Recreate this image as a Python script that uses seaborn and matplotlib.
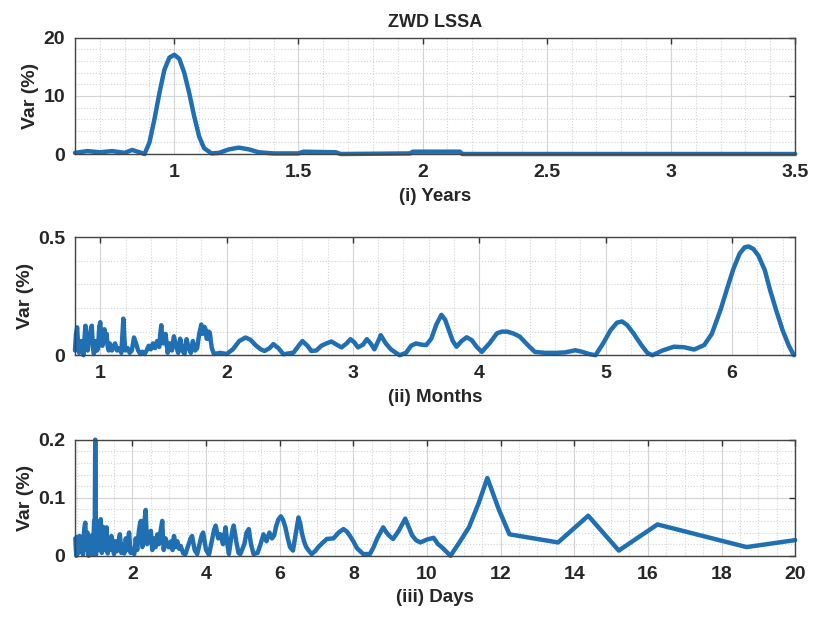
import numpy as np
import matplotlib
matplotlib.use("Agg")
import matplotlib.pyplot as plt
from matplotlib.ticker import MultipleLocator
import seaborn as sns

# (i) Years
years_x = [0.60, 0.65, 0.70, 0.75, 0.80, 0.83, 0.86, 0.88, 0.90, 0.92, 0.94, 0.96,
           0.98, 1.00, 1.02, 1.04, 1.06, 1.08, 1.10, 1.12, 1.15, 1.18, 1.22, 1.26,
           1.30, 1.34, 1.40, 1.50, 1.52, 1.65, 1.67, 1.95, 1.96, 2.15, 2.16, 3.50]
years_y = [0.2, 0.5, 0.3, 0.5, 0.2, 0.7, 0.3, 0.0, 2.0, 6.0, 10.5, 14.5,
           16.6, 17.1, 16.4, 14.0, 10.5, 6.5, 3.0, 1.0, 0.1, 0.2, 0.8, 1.1,
           0.8, 0.3, 0.1, 0.1, 0.4, 0.3, 0.0, 0.1, 0.4, 0.4, 0.0, 0.0]

# (ii) Months
months_x = [0.80, 0.808, 0.817, 0.825, 0.833, 0.842, 0.85, 0.858, 0.867, 0.875, 0.883, 0.892,
            0.90, 0.908, 0.917, 0.925, 0.933, 0.942, 0.95, 0.958, 0.967, 0.975, 0.983, 0.992,
            1.00, 1.008, 1.017, 1.025, 1.033, 1.042, 1.05, 1.058, 1.067, 1.075, 1.083, 1.092,
            1.10, 1.117, 1.133, 1.15, 1.167, 1.175, 1.183, 1.192,
            1.20, 1.217, 1.233, 1.25, 1.267, 1.283, 1.30, 1.317, 1.333, 1.35, 1.367, 1.383,
            1.40, 1.417, 1.433, 1.45, 1.467, 1.475, 1.483, 1.492, 1.50, 1.517, 1.533, 1.55,
            1.567, 1.583, 1.60, 1.617, 1.633, 1.65, 1.667, 1.683, 1.70, 1.717, 1.733, 1.75,
            1.767, 1.783, 1.792, 1.80, 1.808, 1.817, 1.825, 1.833, 1.842, 1.85, 1.858, 1.867,
            1.875, 1.883, 1.90, 1.95, 2.00, 2.05, 2.10, 2.15, 2.19, 2.23, 2.27, 2.30,
            2.34, 2.37, 2.41, 2.45, 2.53, 2.57, 2.60, 2.64, 2.67, 2.71, 2.75, 2.79,
            2.83, 2.87, 2.91, 2.95, 2.98, 3.01, 3.04, 3.08, 3.11, 3.14, 3.17, 3.20,
            3.22, 3.26, 3.30, 3.34, 3.37, 3.42, 3.46, 3.50, 3.54, 3.58, 3.62, 3.66,
            3.70, 3.73, 3.75, 3.79, 3.82, 3.86, 3.90, 3.94, 3.98, 4.02, 4.08, 4.14,
            4.18, 4.22, 4.27, 4.32, 4.38, 4.44, 4.52, 4.61, 4.68, 4.76, 4.81, 4.87,
            4.92, 4.98, 5.04, 5.09, 5.13, 5.17, 5.22, 5.28, 5.33, 5.37, 5.45, 5.54,
            5.62, 5.70, 5.78, 5.84, 5.91, 5.96, 6.01, 6.06, 6.10, 6.13, 6.17, 6.21,
            6.26, 6.30, 6.35, 6.40, 6.45, 6.49]
months_y = [0.02, 0.09, 0.118, 0.04, 0.01, 0.05, 0.06, 0.02, 0.00, 0.07, 0.125, 0.05,
            0.02, 0.06, 0.08, 0.11, 0.125, 0.03, 0.005, 0.04, 0.06, 0.02, 0.03, 0.12,
            0.14, 0.07, 0.04, 0.09, 0.11, 0.06, 0.09, 0.04, 0.02, 0.05, 0.04, 0.02,
            0.03, 0.05, 0.02, 0.03, 0.01, 0.08, 0.155, 0.06,
            0.02, 0.03, 0.01, 0.02, 0.075, 0.05, 0.02, 0.005, 0.015, 0.005, 0.02, 0.04,
            0.025, 0.05, 0.03, 0.06, 0.035, 0.09, 0.127, 0.06, 0.05, 0.09, 0.01, 0.05,
            0.02, 0.08, 0.04, 0.01, 0.07, 0.02, 0.005, 0.068, 0.03, 0.01, 0.06, 0.02,
            0.03, 0.09, 0.11, 0.13, 0.09, 0.10, 0.12, 0.11, 0.07, 0.07, 0.10, 0.096,
            0.06, 0.03, 0.005, 0.01, 0.005, 0.025, 0.06, 0.075, 0.065, 0.042, 0.025, 0.018,
            0.03, 0.047, 0.03, 0.004, 0.011, 0.04, 0.06, 0.04, 0.018, 0.02, 0.04, 0.05,
            0.058, 0.045, 0.033, 0.05, 0.068, 0.055, 0.033, 0.045, 0.068, 0.05, 0.025, 0.06,
            0.085, 0.05, 0.025, 0.01, 0.0, 0.01, 0.04, 0.05, 0.045, 0.043, 0.07, 0.13,
            0.171, 0.15, 0.12, 0.06, 0.036, 0.06, 0.076, 0.064, 0.035, 0.014, 0.05, 0.093,
            0.10, 0.10, 0.092, 0.079, 0.045, 0.014, 0.01, 0.01, 0.012, 0.021, 0.015, 0.005,
            0.0, 0.05, 0.107, 0.138, 0.143, 0.128, 0.093, 0.045, 0.01, 0.0, 0.02, 0.036,
            0.034, 0.024, 0.043, 0.09, 0.193, 0.28, 0.364, 0.43, 0.457, 0.461, 0.45, 0.421,
            0.36, 0.279, 0.19, 0.107, 0.04, 0.0]

# (iii) Days
days_x = [0.45, 0.465, 0.48, 0.495, 0.51, 0.525, 0.54, 0.555, 0.57, 0.585, 0.60, 0.615,
          0.63, 0.645, 0.66, 0.675, 0.69, 0.705, 0.72, 0.735, 0.75, 0.765, 0.78, 0.795,
          0.81, 0.825, 0.84, 0.855, 0.87, 0.885, 0.90, 0.915, 0.93, 0.945, 0.96, 0.975,
          0.99, 1.01, 1.025, 1.04, 1.055, 1.07, 1.085, 1.10, 1.12, 1.14, 1.155, 1.17,
          1.185, 1.20, 1.215, 1.23, 1.25, 1.27, 1.285, 1.30, 1.315, 1.33, 1.345, 1.36,
          1.38, 1.40, 1.415, 1.43, 1.445, 1.46, 1.48, 1.50, 1.52, 1.54, 1.56, 1.58,
          1.60, 1.62, 1.64, 1.66, 1.68, 1.70, 1.72, 1.74, 1.76, 1.78, 1.80, 1.82,
          1.84, 1.86, 1.885, 1.91, 1.93, 1.95, 1.975, 2.00, 2.025, 2.05, 2.07, 2.09,
          2.11, 2.13, 2.155, 2.18, 2.205, 2.23, 2.25, 2.27, 2.29, 2.31, 2.335, 2.36,
          2.38, 2.40, 2.425, 2.45, 2.475, 2.50, 2.52, 2.54, 2.56, 2.58, 2.605, 2.63,
          2.655, 2.68, 2.70, 2.72, 2.745, 2.77, 2.79, 2.81, 2.83, 2.85, 2.875, 2.90,
          2.925, 2.95, 2.975, 3.00, 3.025, 3.05, 3.07, 3.09, 3.11, 3.13, 3.155, 3.18,
          3.20, 3.22, 3.245, 3.27, 3.29, 3.31, 3.38, 3.44, 3.53, 3.58, 3.62, 3.66,
          3.69, 3.76, 3.84, 3.88, 3.92, 3.96, 4.00, 4.08, 4.17, 4.22, 4.26, 4.30,
          4.33, 4.39, 4.46, 4.53, 4.58, 4.62, 4.68, 4.72, 4.75, 4.78, 4.82, 4.88,
          4.93, 5.04, 5.10, 5.16, 5.22, 5.29, 5.40, 5.48, 5.56, 5.64, 5.72, 5.79,
          5.85, 5.90, 5.96, 6.03, 6.09, 6.15, 6.22, 6.28, 6.36, 6.44, 6.51, 6.56,
          6.60, 6.66, 6.72, 6.80, 6.87, 6.96, 7.05, 7.16, 7.28, 7.46, 7.60, 7.73,
          7.82, 7.90, 8.00, 8.10, 8.27, 8.45, 8.55, 8.65, 8.81, 8.90, 9.00, 9.08,
          9.17, 9.25, 9.41, 9.50, 9.60, 9.70, 9.82, 10.00, 10.18, 10.30, 10.40, 10.64,
          10.90, 11.14, 11.40, 11.64, 11.95, 12.24, 13.56, 14.38, 15.21, 16.26, 18.68, 20.00]
days_y = [0.03, 0.01, 0.0, 0.02, 0.033, 0.012, 0.005, 0.025, 0.034, 0.015, 0.01, 0.028,
          0.03, 0.008, 0.002, 0.025, 0.045, 0.052, 0.057, 0.03, 0.01, 0.025, 0.04, 0.015,
          0.0, 0.02, 0.03, 0.012, 0.01, 0.028, 0.035, 0.015, 0.002, 0.03, 0.06, 0.02,
          0.2, 0.002, 0.02, 0.03, 0.012, 0.01, 0.03, 0.04, 0.055, 0.063, 0.02, 0.005,
          0.03, 0.05, 0.025, 0.01, 0.02, 0.03, 0.04, 0.049, 0.02, 0.004, 0.015, 0.025,
          0.018, 0.01, 0.025, 0.034, 0.028, 0.02, 0.01, 0.003, 0.015, 0.025, 0.012, 0.008,
          0.015, 0.02, 0.03, 0.037, 0.02, 0.005, 0.015, 0.02, 0.01, 0.004, 0.02, 0.03,
          0.02, 0.01, 0.03, 0.04, 0.02, 0.005, 0.012, 0.01, 0.005, 0.003, 0.015, 0.03,
          0.02, 0.01, 0.03, 0.045, 0.055, 0.06, 0.03, 0.015, 0.035, 0.05, 0.065, 0.079,
          0.045, 0.02, 0.03, 0.035, 0.04, 0.043, 0.025, 0.01, 0.02, 0.03, 0.022, 0.015,
          0.028, 0.037, 0.03, 0.02, 0.035, 0.045, 0.052, 0.06, 0.03, 0.01, 0.02, 0.03,
          0.025, 0.02, 0.015, 0.015, 0.022, 0.025, 0.015, 0.01, 0.025, 0.034, 0.025, 0.015,
          0.02, 0.025, 0.018, 0.012, 0.015, 0.017, 0.004, 0.003, 0.02, 0.03, 0.034, 0.02,
          0.01, 0.003, 0.025, 0.035, 0.04, 0.025, 0.01, 0.002, 0.03, 0.045, 0.052, 0.04,
          0.03, 0.037, 0.02, 0.049, 0.02, 0.003, 0.03, 0.045, 0.052, 0.04, 0.025, 0.005,
          0.003, 0.02, 0.04, 0.046, 0.02, 0.003, 0.005, 0.02, 0.037, 0.025, 0.04, 0.03,
          0.035, 0.05, 0.062, 0.068, 0.062, 0.05, 0.03, 0.015, 0.009, 0.04, 0.066, 0.055,
          0.04, 0.025, 0.015, 0.008, 0.003, 0.008, 0.015, 0.022, 0.029, 0.03, 0.04, 0.046,
          0.042, 0.035, 0.025, 0.013, 0.003, 0.003, 0.015, 0.03, 0.049, 0.04, 0.033, 0.029,
          0.037, 0.045, 0.064, 0.05, 0.035, 0.027, 0.023, 0.028, 0.031, 0.02, 0.015, 0.0,
          0.025, 0.049, 0.09, 0.134, 0.08, 0.037, 0.023, 0.069, 0.009, 0.054, 0.015, 0.027]

sns.set_theme(style="white")
plt.rcParams["font.family"] = ["Liberation Sans", "DejaVu Sans"]
plt.rcParams["font.weight"] = "bold"

fig = plt.figure(figsize=(8.24, 6.21), dpi=100)

panels = [
    # x, y, pos, xlim, ylim, xmaj, xmin, ymaj, ymin, label
    (years_x, years_y, [0.091, 0.752, 0.874, 0.187], (0.6, 3.5), (0, 20), 0.5, 0.1, 10, 2, "(i) Years"),
    (months_x, months_y, [0.091, 0.428, 0.874, 0.190], (0.8, 6.5), (0, 0.5), 1, 0.2, 0.5, 0.1, "(ii) Months"),
    (days_x, days_y, [0.091, 0.105, 0.874, 0.187], (0.44, 20), (0, 0.2), 2, 0.5, 0.1, 0.02, "(iii) Days"),
]

for i, (xs, ys, pos, xlim, ylim, xmaj, xmin, ymaj, ymin, label) in enumerate(panels):
    ax = fig.add_axes(pos)
    sns.lineplot(x=xs, y=ys, ax=ax, color="#1f6fb2", linewidth=3.2, estimator=None)
    ax.set_xlim(*xlim)
    ax.set_ylim(*ylim)
    ax.xaxis.set_major_locator(MultipleLocator(xmaj))
    ax.xaxis.set_minor_locator(MultipleLocator(xmin))
    ax.yaxis.set_major_locator(MultipleLocator(ymaj))
    ax.yaxis.set_minor_locator(MultipleLocator(ymin))
    ax.set_axisbelow(True)
    ax.grid(which="major", color="#d4d4d4", linestyle="-", linewidth=0.8)
    ax.grid(which="minor", color="#d4d4d4", linestyle=":", linewidth=0.8)
    ax.tick_params(which="major", direction="in", top=True, right=True, length=4,
                   width=1, color="#333333", labelsize=14, pad=7)
    ax.tick_params(which="minor", length=0)
    for s in ax.spines.values():
        s.set_color("#444444")
        s.set_linewidth(1.0)
    for t in ax.get_xticklabels() + ax.get_yticklabels():
        t.set_fontweight("bold")
    ax.xaxis.set_major_formatter(plt.FuncFormatter(lambda v, p: f"{v:g}"))
    ax.yaxis.set_major_formatter(plt.FuncFormatter(lambda v, p: f"{v:g}"))
    ax.set_xlabel(label, fontsize=13.5, fontweight="bold", labelpad=5)
    ax.set_ylabel("Var (%)", fontsize=14, fontweight="bold", labelpad=3)
    for ln in ax.lines:
        ln.set_clip_on(False)
    if i == 0:
        ax.set_title("ZWD LSSA", fontsize=13, fontweight="bold", pad=8)

fig.savefig("out.png", dpi=100)
